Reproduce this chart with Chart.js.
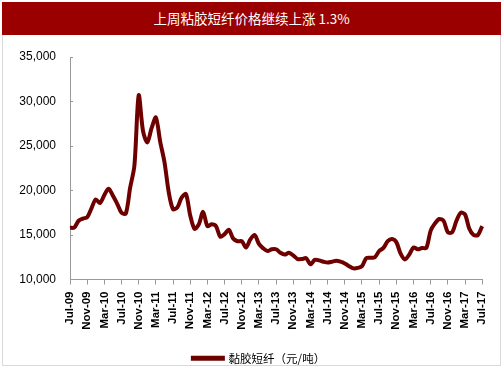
<!DOCTYPE html>
<html>
<head>
<meta charset="utf-8">
<script src="https://cdn.jsdelivr.net/npm/chart.js@4.4.1/dist/chart.umd.min.js"></script>
<style>
  body { margin: 0; background: #fff; }
  #wrap { position: relative; width: 503px; height: 378px; }
  #title {
    position: absolute; left: 2px; top: 2px; width: 499px; height: 33px;
    background: #9a0000; color: #fff; text-align: center;
    font: 13.5px "Noto Sans CJK SC", "Noto Sans", sans-serif; line-height: 33px;
  }
  #frame {
    position: absolute; left: 2px; top: 35px; width: 497px; height: 330px;
    border: 1px solid #d9d9d9; border-top: none;
  }
  #chart { position: absolute; left: 0; top: 0; }
</style>
</head>
<body>
<div id="wrap">
  <div id="title">上周粘胶短纤价格继续上涨 1.3%</div>
  <div id="frame"></div>
  <canvas id="chart" width="503" height="378"></canvas>
</div>
<script>
// monthly, Jul-09 .. Jul-17 (元/吨)
var monthNames = ["Jan", "Feb", "Mar", "Apr", "May", "Jun", "Jul", "Aug", "Sep", "Oct", "Nov", "Dec"];
var prices = [
  15800, 15850, 16600, 16850, 17000, 18000, 19000, 18600, 19500, 20200, 19400, 18500,
  17500, 17400, 20300, 22800, 30700, 26700, 25400, 27000, 28200, 25500, 23200, 19800,
  17900, 18100, 19200, 19600, 17200, 15700, 16200, 17600, 16000, 16200, 16000, 14800,
  15100, 15600, 14600, 14300, 14300, 13600, 14500, 15000, 14000, 13500, 13200, 13400,
  13400, 13000, 12800, 13000, 12700, 12300, 12300, 12400, 11700, 12200, 12150, 12000,
  11900, 12000, 12100, 12000, 11800, 11500, 11250, 11300, 11500, 12400, 12450, 12500,
  13200, 13550, 14300, 14550, 14200, 12900, 12250, 12800, 13600, 13400, 13550, 13550,
  15500, 16300, 16800, 16600, 15300, 15300, 16600, 17500, 17300, 15700, 15000, 15000,
  16000
];
var seriesName = "黏胶短纤（元/吨）";
var labelEvery = 4;
var yMin = 10000;
var yMax = 35000;
var yStep = 5000;

var months = [];
for (var i = 0; i < prices.length; i++) {
  var m = (6 + i) % 12;
  var y = 9 + Math.floor((6 + i) / 12);
  months.push(monthNames[m] + "-" + (y < 10 ? "0" + y : y));
}

var axisColor = "#999999";
var lineColor = "#6e0000";

// legend sits a bit right of the plot centre in the original
var legendShift = {
  id: "legendShift",
  afterLayout: function(chart) {
    chart.legend.left += 16;
    chart.legend.right += 16;
  }
};

var ctx = document.getElementById("chart");
var chart = new Chart(ctx, {
  type: "line",
  data: {
    labels: months,
    datasets: [
      {
        label: seriesName,
        data: prices,
        borderColor: lineColor,
        backgroundColor: lineColor,
        borderWidth: 4,
        pointRadius: 0,
        tension: 0.3,
        fill: false
      }
    ]
  },
  options: {
    responsive: false,
    animation: false,
    layout: { padding: { left: 0, right: 17, top: 57, bottom: 4 } },
    plugins: {
      tooltip: { enabled: false },
      legend: {
        position: "bottom",
        labels: {
          boxWidth: 30,
          boxHeight: 1,
          color: "#000",
          font: { family: "'Noto Sans CJK SC'", size: 11.5 }
        }
      }
    },
    scales: {
      x: {
        offset: false,
        border: { color: axisColor, width: 1 },
        grid: { drawOnChartArea: false, color: axisColor, tickLength: 5 },
        ticks: {
          autoSkip: false,
          minRotation: 90,
          maxRotation: 90,
          padding: 7,
          color: "#000",
          font: { family: "'Liberation Sans', Arial", size: 11.5, weight: "bold" },
          callback: function(v, i) {
            return i % labelEvery === 0 ? months[i] : null;
          }
        },
        afterFit: function(s) { s.height = 63; }
      },
      y: {
        min: yMin,
        max: yMax,
        border: { color: axisColor, width: 1 },
        grid: { drawOnChartArea: false, color: axisColor, tickLength: -3 },
        ticks: {
          stepSize: yStep,
          padding: 17,
          color: "#000",
          font: { family: "'Liberation Sans', Arial", size: 12 },
          callback: function(v) { return v.toLocaleString("en-US"); }
        },
        afterFit: function(s) { s.width = 70; }
      }
    }
  },
  plugins: [legendShift]
});
</script>
</body>
</html>
